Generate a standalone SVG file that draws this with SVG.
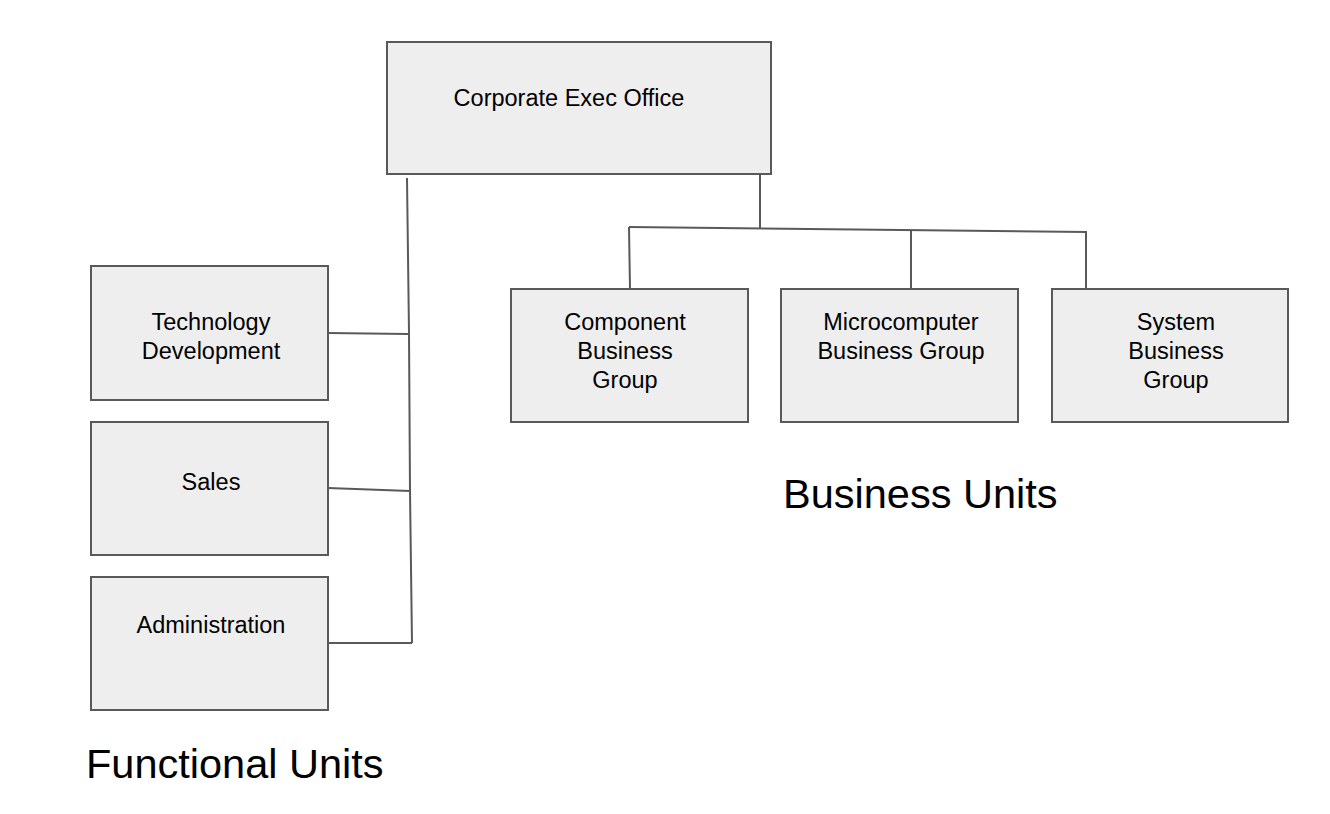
<svg xmlns="http://www.w3.org/2000/svg" width="1330" height="814" viewBox="0 0 1330 814">
<style>
.box{fill:#eeeeee;stroke:#595959;stroke-width:2}
.ln{fill:none;stroke:#595959;stroke-width:2}
.t{font-family:"Liberation Sans",Arial,sans-serif;font-size:23.5px;fill:#000;text-anchor:middle}
.big{font-family:"Liberation Sans",Arial,sans-serif;font-size:41.5px;fill:#000}
</style>
<rect width="1330" height="814" fill="#ffffff"/>
<g id="connectors">
<polyline class="ln" points="407,178 409,333 410,491 412,643"/>
<line class="ln" x1="328" y1="333" x2="408" y2="334"/>
<line class="ln" x1="328" y1="488" x2="410" y2="491"/>
<line class="ln" x1="328" y1="643" x2="412" y2="643"/>
<line class="ln" x1="760" y1="175" x2="760" y2="229"/>
<line class="ln" x1="629" y1="227" x2="1087" y2="232"/>
<line class="ln" x1="629" y1="227" x2="630" y2="289"/>
<line class="ln" x1="911" y1="230" x2="911" y2="289"/>
<line class="ln" x1="1086" y1="232" x2="1086" y2="289"/>
</g>
<g id="corporate">
<rect class="box" x="387" y="42" width="384" height="132"/>
<text class="t" x="569" y="106">Corporate Exec Office</text>
</g>
<g id="tech">
<rect class="box" x="91" y="266" width="237" height="134"/>
<text class="t" x="211" y="330">Technology</text>
<text class="t" x="211" y="359">Development</text>
</g>
<g id="sales">
<rect class="box" x="91" y="422" width="237" height="133"/>
<text class="t" x="211" y="490">Sales</text>
</g>
<g id="admin">
<rect class="box" x="91" y="577" width="237" height="133"/>
<text class="t" x="211" y="633">Administration</text>
</g>
<g id="component">
<rect class="box" x="511" y="289" width="237" height="133"/>
<text class="t" x="625" y="330">Component</text>
<text class="t" x="625" y="359">Business</text>
<text class="t" x="625" y="388">Group</text>
</g>
<g id="micro">
<rect class="box" x="781" y="289" width="237" height="133"/>
<text class="t" x="901" y="330">Microcomputer</text>
<text class="t" x="901" y="359">Business Group</text>
</g>
<g id="system">
<rect class="box" x="1052" y="289" width="236" height="133"/>
<text class="t" x="1176" y="330">System</text>
<text class="t" x="1176" y="359">Business</text>
<text class="t" x="1176" y="388">Group</text>
</g>
<g id="labels">
<text class="big" x="783" y="508">Business Units</text>
<text class="big" x="86" y="778">Functional Units</text>
</g>
</svg>
